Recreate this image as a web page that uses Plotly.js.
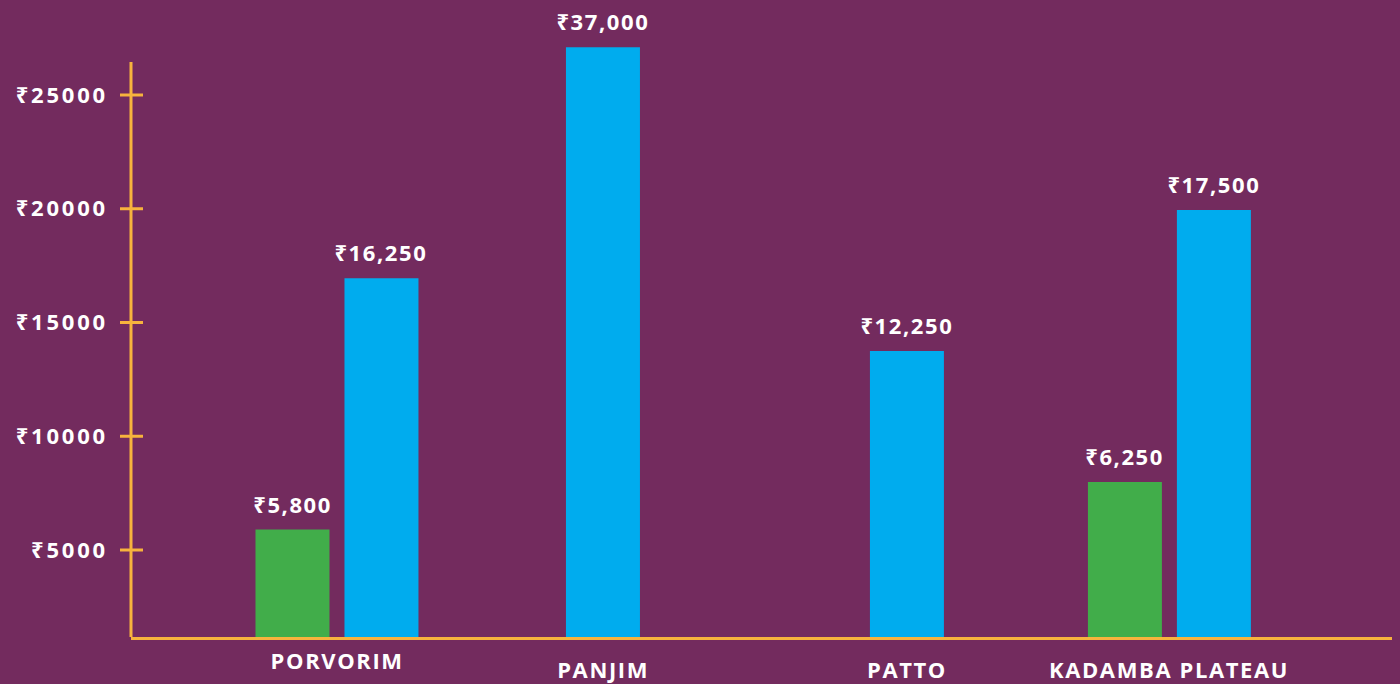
<!DOCTYPE html>
<html>
<head>
<meta charset="utf-8">
<script src="https://cdn.plot.ly/plotly-3.0.1.min.js"></script>
<style>
  html, body { margin: 0; padding: 0; background: #732B5E; }
  #chart { width: 1400px; height: 684px; }
  #chart .ytick text { letter-spacing: 2.8px; }
  #chart .annotation-text { letter-spacing: 1.6px; }
</style>
</head>
<body>
<div id="chart"></div>
<script>
// ---- data ----
const categories = ['PORVORIM', 'PANJIM', 'PATTO', 'KADAMBA PLATEAU'];
const greenValues = [5900, null, null, 7990];
const blueValues = [16950, 27100, 13750, 19950];
const greenLabels = ['₹5,800', '', '', '₹6,250'];
const blueLabels = ['₹16,250', '₹37,000', '₹12,250', '₹17,500'];
const yTickValues = [5000, 10000, 15000, 20000, 25000];
const yTickLabels = ['₹5000', '₹10000', '₹15000', '₹20000', '₹25000'];

// ---- layout / style ----
const BG = '#732B5E';
const GREEN = '#41AD4A';
const BLUE = '#00ACEE';
const AXIS = '#F7B33D';
const FONT = '"Open Sans", "Noto Sans", "DejaVu Sans", sans-serif';
const pxPerCat = 280;
const barPx = 74;
const gapPx = 15;
const groupNudgePx = [3, -11, 13, -4.5];
const xLabelShift = [-7, -16, -16, -16];
const yMin = 1176, yMax = 28736, yAxisTop = 26451;

const w = barPx / pxPerCat;
const greenOffset = categories.map((c, i) => (-gapPx / 2 - barPx + groupNudgePx[i]) / pxPerCat);
const blueOffset = categories.map((c, i) =>
  (greenValues[i] == null ? -barPx / 2 + groupNudgePx[i] : gapPx / 2 + groupNudgePx[i]) / pxPerCat);

const traces = [
  { type: 'bar', x: categories, y: greenValues, width: w, offset: greenOffset,
    marker: { color: GREEN }, hoverinfo: 'skip', cliponaxis: false },
  { type: 'bar', x: categories, y: blueValues, width: w, offset: blueOffset,
    marker: { color: BLUE }, hoverinfo: 'skip', cliponaxis: false }
];

const annotations = [];
const labelFont = { family: FONT, size: 22, color: '#FFFFFF', weight: 700 };
categories.forEach((c, i) => {
  if (greenValues[i] != null) {
    annotations.push({ x: i + greenOffset[i] + w / 2, y: greenValues[i], xref: 'x', yref: 'y',
      text: greenLabels[i], showarrow: false, yanchor: 'bottom', yshift: 9, font: labelFont });
  }
  annotations.push({ x: i + blueOffset[i] + w / 2, y: blueValues[i], xref: 'x', yref: 'y',
    text: blueLabels[i], showarrow: false, yanchor: 'bottom', yshift: 9, font: labelFont });
  annotations.push({ x: i + groupNudgePx[i] / pxPerCat, y: 0, xref: 'x', yref: 'paper',
    text: c, showarrow: false, yanchor: 'top', yshift: xLabelShift[i], borderpad: 0,
    font: labelFont });
});

const shapes = [
  { type: 'line', xref: 'paper', yref: 'y', x0: 0, x1: 0, y0: yMin, y1: yAxisTop,
    line: { color: AXIS, width: 3 } }
];
yTickValues.forEach(v => {
  shapes.push({ type: 'line', xref: 'paper', xsizemode: 'pixel', xanchor: 0, x0: -11, x1: 12,
    yref: 'y', y0: v, y1: v, line: { color: AXIS, width: 3 } });
});

const layout = {
  width: 1400, height: 684,
  paper_bgcolor: BG, plot_bgcolor: BG,
  margin: { l: 131, r: 8, t: 10, b: 47 },
  showlegend: false,
  barmode: 'overlay',
  xaxis: { type: 'category', categoryarray: categories, range: [-0.725, 3.779],
    showticklabels: false, ticks: '', showgrid: false, zeroline: false,
    showline: true, linecolor: AXIS, linewidth: 3, fixedrange: true },
  yaxis: { range: [yMin, yMax], tickvals: yTickValues, ticktext: yTickLabels,
    ticks: '', ticklabelstandoff: 22, showgrid: false, zeroline: false, showline: false,
    tickfont: { family: FONT, size: 22, color: '#FFFFFF', weight: 700 }, fixedrange: true },
  annotations: annotations,
  shapes: shapes
};

Plotly.newPlot('chart', traces, layout, { displayModeBar: false, staticPlot: true });
</script>
</body>
</html>
